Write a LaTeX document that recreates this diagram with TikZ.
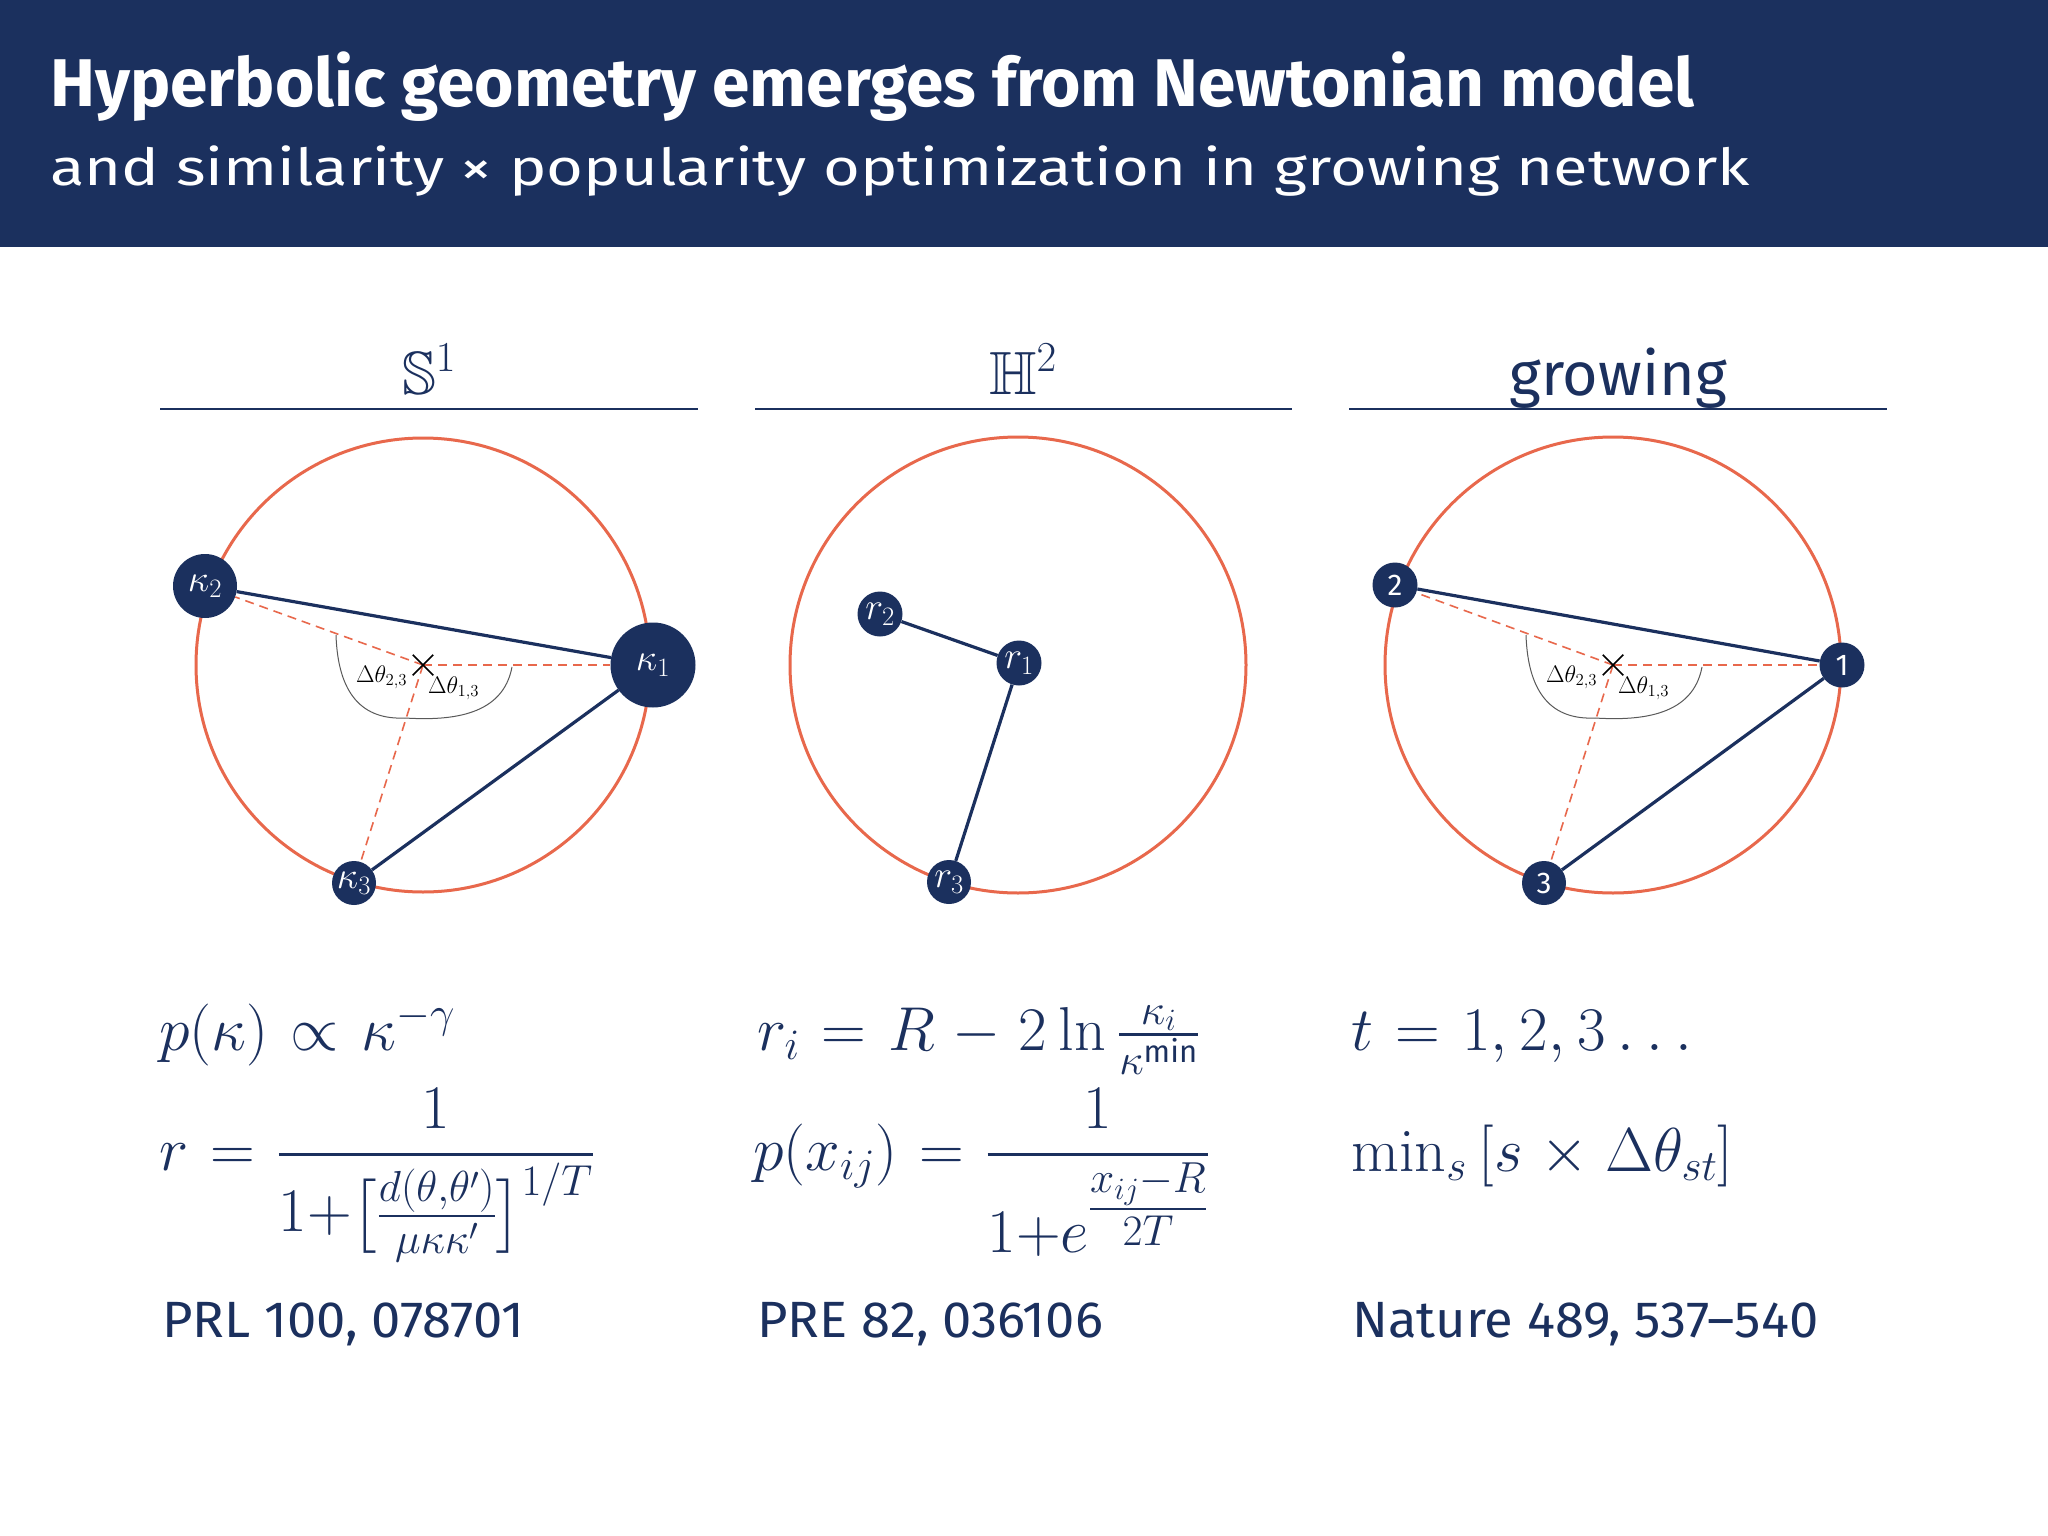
\RequirePackage{fix-cm}
\documentclass[tikz,border=0pt]{standalone}
\usepackage{amsmath,amssymb}
\usepackage{fontspec}
\setsansfont{Fira Sans}
\newfontfamily\subfont{Fira Sans}[FakeStretch=1.24, Ligatures=TeX]
\newfontfamily\reffont{Fira Sans}[FakeStretch=1.03, Ligatures=TeX]
\DeclareFontFamily{U}{msb}{}
\DeclareFontShape{U}{msb}{m}{n}{<-6> msbm5 <6-8> msbm7 <8-> msbm10}{}
\usetikzlibrary{shapes.misc}
\definecolor{navy}{RGB}{27,48,94}
\definecolor{coral}{RGB}{232,104,76}
\newcommand{\widemath}{\thickmuskip=6.5mu plus 5mu\medmuskip=5mu plus 2mu minus 4mu\thinmuskip=3.5mu}
\tikzset{
  hdr/.style={anchor=base, inner sep=0pt, text=navy},
  frm/.style={anchor=base west, inner sep=0pt, text=navy, font=\fontsize{62}{74}\selectfont\widemath},
  refline/.style={anchor=base west, inner sep=0pt, text=navy, font=\reffont\fontsize{51}{60}\selectfont},
  ring/.style={draw=coral, line width=3pt},
  rulebar/.style={draw=navy, line width=2.6pt},
  bignode/.style={circle, fill=navy, inner sep=0pt, text=white, font=\fontsize{38}{44}\selectfont},
  numnode/.style={circle, fill=navy, inner sep=0pt, text=white, font=\sffamily\fontsize{30}{34}\selectfont, minimum size=45pt},
  link/.style={draw=navy, line width=3.2pt},
  dline/.style={draw=coral, line width=1.6pt, dash pattern=on 9pt off 6pt},
  acurve/.style={draw=black!65, line width=1pt},
  xmark/.style={cross out, draw=black, line width=1.5pt, minimum size=19pt, inner sep=0pt},
  dlabel/.style={anchor=base west, inner sep=0pt, text=black, font=\fontsize{24}{28}\selectfont},
}
\begin{document}
\begin{tikzpicture}[x=1pt, y=-1pt]
\useasboundingbox (0,0) rectangle (2048,1536);
\fill[white] (0,0) rectangle (2048,1536);
% header band
\fill[navy] (0,0) rectangle (2048,247);
\node[anchor=base west, inner sep=0pt, text=white, font=\sffamily\bfseries\fontsize{67.5}{80}\selectfont] (t1) at (50,107) {Hyperbolic geometry emerges from Newtonian model};
\node[anchor=base west, inner sep=0pt, text=white, font=\subfont\fontsize{51}{60}\selectfont] (t2) at (50,185) {and similarity \texttimes{} popularity optimization in growing network};

% column headers
\node[hdr, font=\fontsize{61}{70}\selectfont] (hS) at (429,394) {$\mathbb{S}^1$};
\node[hdr, font=\fontsize{61}{70}\selectfont] (hH) at (1023,394) {$\mathbb{H}^2$};
\node[hdr, font=\sffamily\fontsize{61}{70}\selectfont] (hG) at (1618,395) {growing};
\draw[rulebar] (160,409) -- (698,409);
\draw[rulebar] (755,409) -- (1292,409);
\draw[rulebar] (1349,409) -- (1887,409);

% left panel
\begin{scope}[shift={(423,665)}]
  \coordinate (cA) at (0,0);
  \draw[ring] (0,0) circle (227);
  \node[bignode, minimum size=85pt] (k1) at (230,0) {$\kappa_1$};
  \node[bignode, minimum size=64pt] (k2) at (-218,-79) {$\kappa_2$};
  \node[bignode, minimum size=44pt] (k3) at (-69,218) {$\kappa_3$};
  \draw[dline] (cA) -- (k1);
  \draw[dline] (cA) -- (k2);
  \draw[dline] (cA) -- (k3);
  \draw[link] (k2) -- (k1);
  \draw[link] (k1) -- (k3);
  \draw[acurve] (-87,-30) .. controls (-85,30) and (-60,55) .. (-18,53);
  \draw[acurve] (-18,53) .. controls (30,56) and (80,50) .. (89,2);
  \node[xmark] (xA) at (0,0) {};
  \node[dlabel] (dA1) at (-67,17) {$\Delta\theta_{2,3}$};
  \node[dlabel] (dA2) at (5,28) {$\Delta\theta_{1,3}$};
\end{scope}

% middle panel
\begin{scope}[shift={(1018,665)}]
  \draw[ring] (0,0) circle (228);
  \node[bignode, minimum size=45pt] (r1) at (1,-2) {$r_1$};
  \node[bignode, minimum size=45pt] (r2) at (-138,-51) {$r_2$};
  \node[bignode, minimum size=44pt] (r3) at (-69,217) {$r_3$};
  \draw[link] (r2) -- (r1);
  \draw[link] (r1) -- (r3);
\end{scope}

% right panel
\begin{scope}[shift={(1613,665)}]
  \coordinate (cC) at (0,0);
  \draw[ring] (0,0) circle (228);
  \node[numnode] (n1) at (229,0) {1};
  \node[numnode] (n2) at (-218,-80) {2};
  \node[numnode, minimum size=44pt] (n3) at (-69,218) {3};
  \draw[dline] (cC) -- (n1);
  \draw[dline] (cC) -- (n2);
  \draw[dline] (cC) -- (n3);
  \draw[link] (n2) -- (n1);
  \draw[link] (n1) -- (n3);
  \draw[acurve] (-87,-30) .. controls (-85,30) and (-60,55) .. (-18,53);
  \draw[acurve] (-18,53) .. controls (30,56) and (80,50) .. (89,2);
  \node[xmark] (xC) at (0,0) {};
  \node[dlabel] (dC1) at (-67,17) {$\Delta\theta_{2,3}$};
  \node[dlabel] (dC2) at (5,28) {$\Delta\theta_{1,3}$};
\end{scope}

% formulas
\node[frm] (fA1) at (159,1050) {$p(\kappa)\propto\kappa^{-\gamma}$};
\node[frm] (fA2) at (159,1170) {$\displaystyle r=\frac{1}{1{+}\bigl[\frac{d(\theta,\theta')}{\mu\kappa\kappa'}\bigr]^{1/T}}$};
\node[frm] (fB1) at (757,1050) {$r_i = R - 2\ln\frac{\kappa_i}{\kappa^{\mathsf{min}}}$};
\node[frm] (fB2) at (753,1170) {$\displaystyle p(x_{ij}) = \frac{1}{1{+}e^{\tfrac{x_{ij}-R}{2T}}}$};
\node[frm] (fC1) at (1351,1050) {$t = 1,2,3\ldots$};
\node[frm] (fC2) at (1351,1171) {$\min_s\left[s\times\Delta\theta_{st}\right]$};

% references
\node[refline] (rA) at (162,1337) {PRL 100, 078701};
\node[refline] (rB) at (757,1337) {PRE 82, 036106};
\node[refline] (rC) at (1352,1337) {Nature 489, 537\textendash 540};
\end{tikzpicture}
\end{document}
